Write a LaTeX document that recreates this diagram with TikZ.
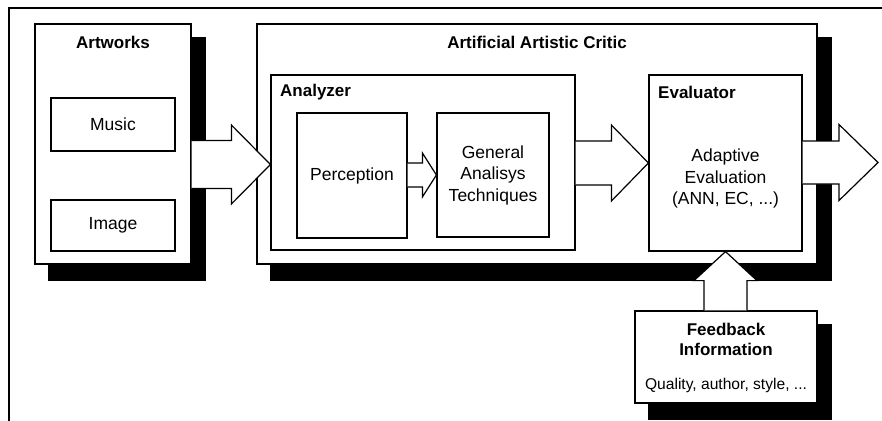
\documentclass[tikz,border=0pt]{standalone}
\usepackage{fontspec}
\setmainfont{Liberation Sans}
\usetikzlibrary{calc}
\pgfdeclarelayer{shadowlayer}
\pgfsetlayers{shadowlayer,main}

\newcommand{\headtext}{\bfseries\fontsize{17}{20.5}\selectfont}
\newcommand{\regtext}{\fontsize{17.5}{21.5}\selectfont}
\newcommand{\smalltext}{\fontsize{15.6}{19}\selectfont}

\tikzset{
  box/.style={draw, fill=white, line width=1.2pt, inner sep=0pt, align=center, font=\regtext},
  heading/.style={font=\headtext, inner sep=0pt, align=center},
  label/.style={font=\regtext, inner sep=0pt, align=center},
  arrowbody/.style={draw, fill=white, line width=1.2pt, line join=miter},
}

% black drop shadow below and right of a named box
\newcommand{\boxshadow}[1]{%
  \fill ([shift={(14,14)}]#1.north west) rectangle ([shift={(14,16)}]#1.south east);}

% block arrow pointing right: tail, tip, half shaft, half head, head length
\newcommand{\fatright}[5]{%
  \draw[arrowbody] let \p1=#1, \p2=#2 in
    (\x1,\y2+#3) -- (\x2-#5,\y2+#3) -- (\x2-#5,\y2+#4) -- (\x2,\y2)
    -- (\x2-#5,\y2-#4) -- (\x2-#5,\y2-#3) -- (\x1,\y2-#3);}

% block arrow pointing up: tail, tip, half shaft, half head, head length
\newcommand{\fatup}[5]{%
  \draw[arrowbody] let \p1=#1, \p2=#2 in
    (\x2-#3,\y1) -- (\x2-#3,\y2-#5) -- (\x2-#4,\y2-#5) -- (\x2,\y2)
    -- (\x2+#4,\y2-#5) -- (\x2+#3,\y2-#5) -- (\x2+#3,\y1);}

\begin{document}
\begin{tikzpicture}[x=1pt, y=-1pt]
\useasboundingbox (0,0) rectangle (882,420);
\clip (0,0) rectangle (882,420);

% outer frame
\draw[line width=1.2pt] (9,8) rectangle (900,440);

% Artworks
\node[box, minimum width=156pt, minimum height=240pt] (art) at (113,144) {};
\node[heading] (arttitle) at (113,42) {Artworks};
\node[box, minimum width=124pt, minimum height=53pt] (music) at (113,124.5) {Music};
\node[box, minimum width=124pt, minimum height=51pt] (image) at (113,225.5) {Image};

% Artificial Artistic Critic
\node[box, minimum width=560pt, minimum height=240pt] (critic) at (537,144) {};
\node[heading] (crittitle) at (537,42) {Artificial Artistic Critic};

% Analyzer
\node[box, minimum width=304pt, minimum height=175pt] (anl) at (423,162.5) {};
\node[heading, anchor=west] (anltitle) at (280,92) {Analyzer};
\node[box, minimum width=110pt, minimum height=125pt] (perc) at (352,175.5) {Perception};
\node[box, minimum width=112pt, minimum height=124pt] (gen) at (493,175) {General\\Analisys\\Techniques};

% Evaluator
\node[box, minimum width=153pt, minimum height=176pt] (eval) at (725.5,163) {};
\node[heading, anchor=west] (evaltitle) at (658,92) {Evaluator};
\node[label] (evaltext) at (725.5,178.5) {Adaptive\\Evaluation\\(ANN, EC, ...)};

% Feedback
\node[box, minimum width=182pt, minimum height=92pt] (fb) at (726,357) {};
\node[heading, font=\bfseries\fontsize{17}{20}\selectfont] (fbtitle) at (726,339) {Feedback\\Information};
\node[label, font=\smalltext] (fbtext) at (726,385) {Quality, author, style, ...};

% shadows
\begin{pgfonlayer}{shadowlayer}
  \boxshadow{art}
  \boxshadow{critic}
  \boxshadow{fb}
\end{pgfonlayer}

% block arrows
\coordinate (lvlA) at (0,164.5);
\coordinate (lvlB) at (0,163);
\coordinate (out) at (878,162.5);
\fatright{(art.east |- lvlA)}{(anl.west |- lvlA)}{24pt}{39.5pt}{39pt}
\fatright{(perc.east)}{(gen.west)}{12pt}{22pt}{14pt}
\fatright{(anl.east |- lvlB)}{(eval.west |- lvlB)}{22pt}{38pt}{37pt}
\fatright{(eval.east |- out)}{(out)}{21.5pt}{38pt}{39pt}
\fatup{(fb.north)}{(eval.south)}{21.5pt}{31.5pt}{29pt}
\end{tikzpicture}
\end{document}
